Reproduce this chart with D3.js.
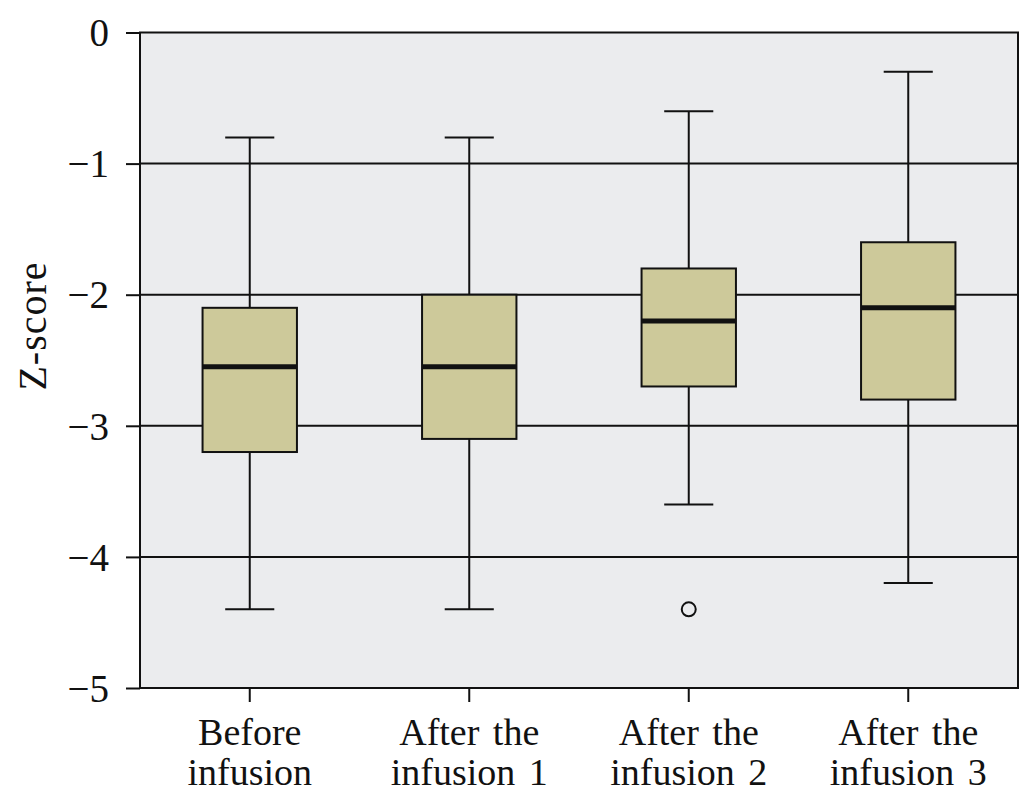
<!DOCTYPE html>
<html><head><meta charset="utf-8">
<script src="https://cdn.jsdelivr.net/npm/d3@7"></script>
<style>body{margin:0;background:#fff}</style>
</head><body>
<svg id="c" width="1022" height="806"></svg>
<script>
const categories = [["Before","infusion"],["After the","infusion 1"],["After the","infusion 2"],["After the","infusion 3"]];
const whiskerLow  = [-4.4, -4.4, -3.6, -4.2];
const q1          = [-3.2, -3.1, -2.7, -2.8];
const median      = [-2.55, -2.55, -2.2, -2.1];
const q3          = [-2.1, -2.0, -1.8, -1.6];
const whiskerHigh = [-0.8, -0.8, -0.6, -0.3];
const outliers    = [[], [], [-4.4], []];
const yTicks = [0, -1, -2, -3, -4, -5];

const svg = d3.select("#c");
const L = 140, R = 1018, T = 32.5, B = 688;
const idx = categories.map((d,i)=>i);
const x = d3.scaleBand().domain(idx).range([L, R]).paddingInner(0.57).paddingOuter(0.285);
const y = d3.scaleLinear().domain([-5, 0]).range([B, T]);
const font = "'Liberation Serif', 'DejaVu Serif', serif";

svg.append("rect").attr("x", L).attr("y", T).attr("width", R-L).attr("height", B-T)
  .attr("fill", "#ebecee");

// gridlines
svg.append("g").selectAll("line").data(yTicks.filter(v=>v>-5 && v<0)).join("line")
  .attr("x1", L).attr("x2", R).attr("y1", d=>y(d)).attr("y2", d=>y(d))
  .attr("stroke", "#111").attr("stroke-width", 2);

// axes
const yAxis = d3.axisLeft(y).tickValues(yTicks).tickSize(14).tickPadding(17)
  .tickFormat(d => d === 0 ? "0" : "\u2212" + Math.abs(d));
const gy = svg.append("g").attr("transform", `translate(${L},0)`).call(yAxis);
gy.select(".domain").remove();
gy.selectAll(".tick line").attr("stroke", "#111").attr("stroke-width", 2);
gy.selectAll(".tick text").attr("font-family", font).attr("font-size", 39).attr("fill", "#111").attr("dy", "0.34em");

const xAxis = d3.axisBottom(x).tickSize(14).tickFormat("");
const gx = svg.append("g").attr("transform", `translate(0,${B})`).call(xAxis);
gx.select(".domain").remove();
gx.selectAll(".tick line").attr("stroke", "#111").attr("stroke-width", 2);

// x labels
const lbl = svg.append("g").selectAll("text").data(idx).join("text")
  .attr("x", d => x(d) + x.bandwidth()/2).attr("y", 745)
  .attr("text-anchor", "middle").attr("font-family", font).attr("font-size", 38).attr("fill", "#111")
  .attr("word-spacing", "4px");
lbl.each(function(d){
  const t = d3.select(this);
  categories[d].forEach((s,j)=>{
    t.append("tspan").attr("x", x(d) + x.bandwidth()/2).attr("dy", j===0 ? 0 : 40).text(s);
  });
});

// y label
svg.append("text").attr("transform", "translate(46,326) rotate(-90)")
  .attr("text-anchor", "middle").attr("font-family", font).attr("font-size", 40).attr("fill", "#111")
  .attr("letter-spacing", "1px")
  .text("Z-score");

// boxes
const g = svg.append("g");
idx.forEach(i => {
  const cx = x(i) + x.bandwidth()/2;
  const w = x.bandwidth();
  const cap = w * 0.52;
  g.append("line").attr("x1", cx).attr("x2", cx).attr("y1", y(whiskerHigh[i])).attr("y2", y(q3[i])).attr("stroke", "#111").attr("stroke-width", 2);
  g.append("line").attr("x1", cx).attr("x2", cx).attr("y1", y(q1[i])).attr("y2", y(whiskerLow[i])).attr("stroke", "#111").attr("stroke-width", 2);
  [whiskerHigh[i], whiskerLow[i]].forEach(v => {
    g.append("line").attr("x1", cx - cap/2).attr("x2", cx + cap/2).attr("y1", y(v)).attr("y2", y(v)).attr("stroke", "#111").attr("stroke-width", 2);
  });
  g.append("rect").attr("x", x(i)).attr("y", y(q3[i])).attr("width", w).attr("height", y(q1[i]) - y(q3[i]))
    .attr("fill", "#cdc99a").attr("stroke", "#111").attr("stroke-width", 2);
  g.append("line").attr("x1", x(i)).attr("x2", x(i) + w).attr("y1", y(median[i])).attr("y2", y(median[i]))
    .attr("stroke", "#111").attr("stroke-width", 5);
  outliers[i].forEach(v => {
    g.append("circle").attr("cx", cx).attr("cy", y(v)).attr("r", 7).attr("fill", "none").attr("stroke", "#111").attr("stroke-width", 2);
  });
});

// frame
svg.append("rect").attr("x", L).attr("y", T).attr("width", R-L).attr("height", B-T)
  .attr("fill", "none").attr("stroke", "#111").attr("stroke-width", 2);
</script>
</body></html>
